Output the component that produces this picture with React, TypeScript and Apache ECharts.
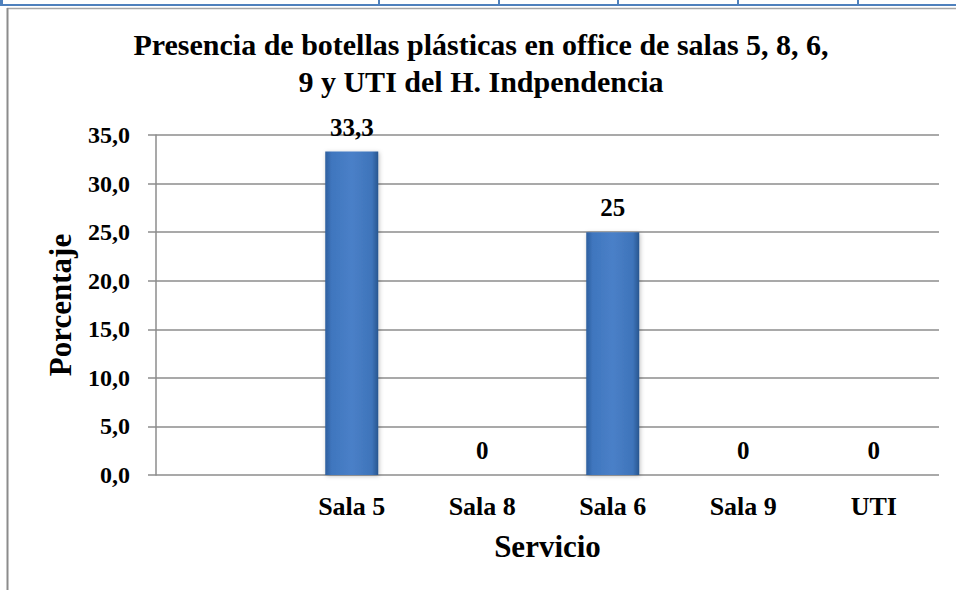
import React, { useEffect, useRef } from "react";
import * as echarts from "echarts";

const categories = ["", "Sala 5", "Sala 8", "Sala 6", "Sala 9", "UTI"];
const values: (number | string)[] = ["-", 33.3, 0, 25, 0, 0];
const yTicks = { min: 0, max: 35, interval: 5 };
const titleText = "Presencia de botellas plásticas en office de salas 5, 8, 6,\n9 y UTI del H. Indpendencia";
const yName = "Porcentaje";
const xName = "Servicio";
const tableColumnLines = [379, 499, 618, 738, 858];

const FONT = "Liberation Serif";

export default function App() {
  const ref = useRef<HTMLDivElement>(null);
  useEffect(() => {
    if (!ref.current) return;
    const chart = echarts.init(ref.current, null, { renderer: "svg" });
    const blue = "#4f81bd";
    const gray = "#8c8c8c";
    const graphics: any[] = [
      { type: "line", shape: { x1: 0, y1: 5, x2: 956, y2: 5 }, style: { stroke: blue, lineWidth: 2 } },
      { type: "line", shape: { x1: 1.5, y1: 0, x2: 1.5, y2: 6 }, style: { stroke: blue, lineWidth: 3 } },
      ...tableColumnLines.map((x) => ({
        type: "line",
        shape: { x1: x, y1: 0, x2: x, y2: 6 },
        style: { stroke: blue, lineWidth: 2 },
      })),
      { type: "line", shape: { x1: 7, y1: 8.5, x2: 956, y2: 8.5 }, style: { stroke: "#a6a6a6", lineWidth: 1.5 } },
      { type: "line", shape: { x1: 7.5, y1: 8, x2: 7.5, y2: 590 }, style: { stroke: gray, lineWidth: 2 } },
    ];
    chart.setOption({
      animation: false,
      backgroundColor: "#ffffff",
      title: {
        text: titleText,
        left: 476,
        top: 21,
        textAlign: "center",
        textStyle: { fontFamily: FONT, fontWeight: "bold", fontSize: 30, color: "#000", lineHeight: 37 },
      },
      graphic: graphics,
      grid: { left: 156, right: 17, top: 135, bottom: 115, containLabel: false },
      xAxis: {
        type: "category",
        data: categories,
        name: xName,
        nameLocation: "middle",
        nameGap: 56,
        nameTextStyle: { fontFamily: FONT, fontWeight: "bold", fontSize: 31, color: "#000" },
        axisLine: { show: false },
        axisTick: { show: false },
        axisLabel: { margin: 18, fontFamily: FONT, fontWeight: "bold", fontSize: 26, color: "#000" },
      },
      yAxis: {
        type: "value",
        min: yTicks.min,
        max: yTicks.max,
        interval: yTicks.interval,
        name: yName,
        nameLocation: "middle",
        nameGap: 80,
        nameTextStyle: { fontFamily: FONT, fontWeight: "bold", fontSize: 31, color: "#000" },
        axisLine: { show: true, lineStyle: { color: gray, width: 1.5 } },
        axisTick: { show: true, length: 8, lineStyle: { color: gray, width: 1.5 } },
        splitLine: { show: true, lineStyle: { color: gray, width: 1.5 } },
        axisLabel: {
          margin: 26,
          fontFamily: FONT,
          fontWeight: "bold",
          fontSize: 24,
          color: "#000",
          formatter: (v: number) => v.toFixed(1).replace(".", ","),
        },
      },
      series: [
        {
          type: "bar",
          data: values,
          barWidth: 53,
          itemStyle: {
            color: new echarts.graphic.LinearGradient(0, 0, 1, 0, [
              { offset: 0, color: "#2d5e9e" },
              { offset: 0.12, color: "#3f76be" },
              { offset: 0.5, color: "#4a80c8" },
              { offset: 0.88, color: "#3e74ba" },
              { offset: 1, color: "#28568f" },
            ]),
            shadowColor: "rgba(0,0,0,0.25)",
            shadowBlur: 4,
            shadowOffsetX: 1,
            shadowOffsetY: 1,
          },
          label: {
            show: true,
            position: "top",
            distance: 12,
            fontFamily: FONT,
            fontWeight: "bold",
            fontSize: 25,
            color: "#000",
            formatter: (p: any) => String(p.value).replace(".", ","),
          },
        },
      ],
    });
    return () => chart.dispose();
  }, []);
  return <div ref={ref} style={{ position: "fixed", left: 0, top: 0, width: 956, height: 590 }} />;
}
